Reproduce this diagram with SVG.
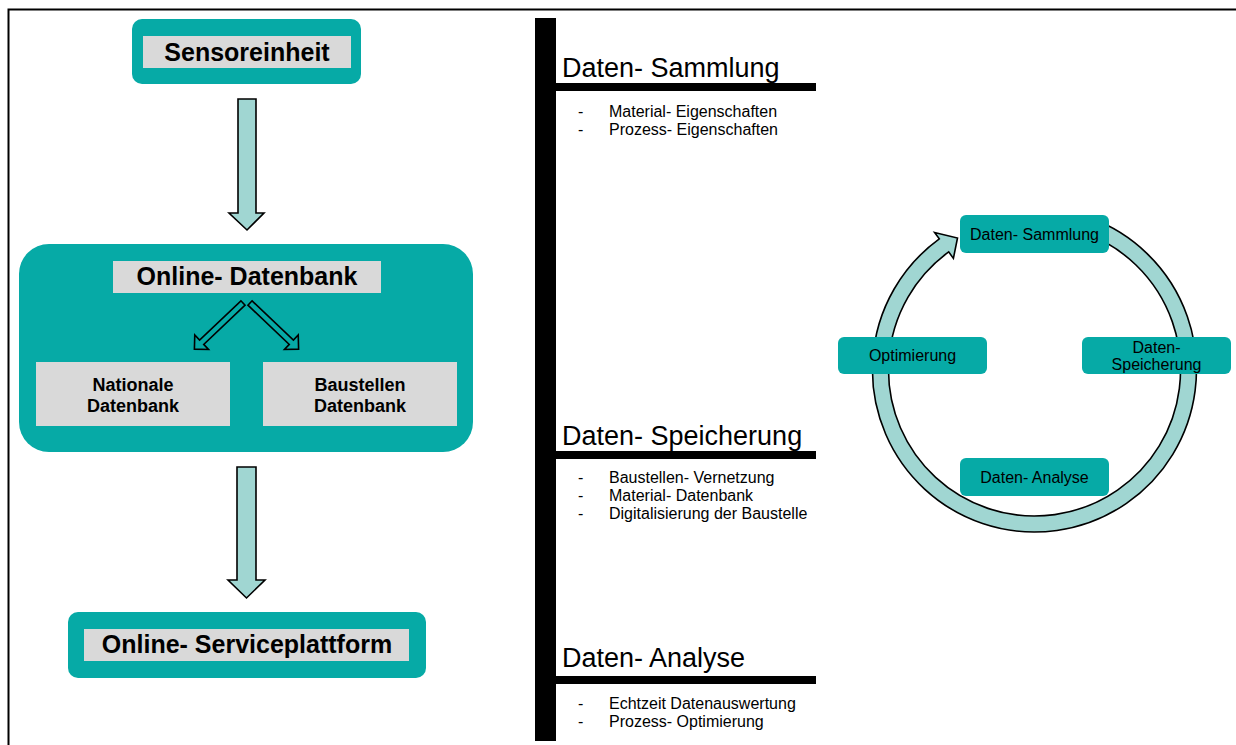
<svg xmlns="http://www.w3.org/2000/svg" width="1236" height="745" viewBox="0 0 1236 745">
  <style>
    .teal { fill: #06aaa6; }
    .gray { fill: #d9d9d9; }
    .flow { fill: #a0d6d2; stroke: #000; stroke-width: 1.6; stroke-linejoin: miter; }
    .split { fill: #06aaa6; stroke: #000; stroke-width: 1.6; stroke-linejoin: miter; }
    .bold { font-family: "Liberation Sans", Arial, sans-serif; font-weight: bold; fill: #000; text-anchor: middle; }
    .head { font-family: "Liberation Sans", Arial, sans-serif; font-size: 27px; fill: #000; }
    .item { font-family: "Liberation Sans", Arial, sans-serif; font-size: 16px; fill: #000; }
    .cyc { font-family: "Liberation Sans", Arial, sans-serif; font-size: 16px; fill: #000; text-anchor: middle; }
  </style>

  <rect width="1236" height="745" fill="#fff"/>
  <!-- frame -->
  <path d="M8.5 745 V9.5 H1236" fill="none" stroke="#000" stroke-width="2"/>

  <!-- left column: data flow -->
  <g id="sensoreinheit">
    <rect class="teal" x="132" y="19" width="229" height="65" rx="10"/>
    <rect class="gray" x="143" y="36" width="208" height="32"/>
    <text class="bold" x="247" y="61" font-size="25">Sensoreinheit</text>
  </g>

  <g id="online-datenbank">
    <rect class="teal" x="19" y="244" width="454" height="208" rx="30"/>
    <rect class="gray" x="113" y="261" width="268" height="32"/>
    <text class="bold" x="247" y="285" font-size="25">Online- Datenbank</text>
  </g>

  <g id="nationale-datenbank">
    <rect class="gray" x="36" y="362" width="194" height="64"/>
    <text class="bold" x="133" y="391" font-size="18">Nationale</text>
    <text class="bold" x="133" y="412" font-size="18">Datenbank</text>
  </g>

  <g id="baustellen-datenbank">
    <rect class="gray" x="263" y="362" width="194" height="64"/>
    <text class="bold" x="360" y="391" font-size="18">Baustellen</text>
    <text class="bold" x="360" y="412" font-size="18">Datenbank</text>
  </g>

  <g id="online-serviceplattform">
    <rect class="teal" x="68" y="612" width="358" height="66" rx="10"/>
    <rect class="gray" x="84" y="629" width="325" height="32"/>
    <text class="bold" x="247" y="653" font-size="25">Online- Serviceplattform</text>
  </g>

  <g id="connectors">
    <!-- Sensoreinheit to Online-Datenbank -->
    <polygon class="flow" points="238,99 256,99 256,213 264,213 247,230 229,213 238,213"/>
    <!-- Online-Datenbank to Online-Serviceplattform -->
    <polygon class="flow" points="237,467 256,467 256,580 265,580 246.5,598 228,580 237,580"/>
    <!-- split into the two databases -->
    <g transform="translate(243,303) rotate(136.5)">
      <polygon class="split" points="0,-3 57,-3 57,-10 67,0 57,10 57,3 0,3"/>
    </g>
    <g transform="translate(250,303) rotate(43.5)">
      <polygon class="split" points="0,-3 57,-3 57,-10 67,0 57,10 57,3 0,3"/>
    </g>
  </g>

  <!-- middle column: timeline -->
  <g id="timeline">
    <rect x="535" y="18" width="21" height="723" fill="#000"/>
    <rect x="556" y="83" width="260" height="8" fill="#000"/>
    <rect x="556" y="451" width="260" height="8" fill="#000"/>
    <rect x="556" y="676" width="260" height="8" fill="#000"/>
  </g>

  <g id="phase-sammlung">
    <text class="head" x="562" y="76.5">Daten- Sammlung</text>
    <text class="item" x="578" y="117">-</text>
    <text class="item" x="609" y="117">Material- Eigenschaften</text>
    <text class="item" x="578" y="134.5">-</text>
    <text class="item" x="609" y="134.5">Prozess- Eigenschaften</text>
  </g>

  <g id="phase-speicherung">
    <text class="head" x="562" y="444.5">Daten- Speicherung</text>
    <text class="item" x="578" y="483">-</text>
    <text class="item" x="609" y="483">Baustellen- Vernetzung</text>
    <text class="item" x="578" y="500.5">-</text>
    <text class="item" x="609" y="500.5">Material- Datenbank</text>
    <text class="item" x="578" y="518.5">-</text>
    <text class="item" x="609" y="518.5">Digitalisierung der Baustelle</text>
  </g>

  <g id="phase-analyse">
    <text class="head" x="562" y="667">Daten- Analyse</text>
    <text class="item" x="578" y="709">-</text>
    <text class="item" x="609" y="709">Echtzeit Datenauswertung</text>
    <text class="item" x="578" y="726.5">-</text>
    <text class="item" x="609" y="726.5">Prozess- Optimierung</text>
  </g>

  <!-- right column: cycle -->
  <g id="cycle-ring">
    <path class="flow" d="M1089.9 217.8 A162 162 0 1 1 939.3 238.9 L934.6 232.5 L957.5 238 L953.4 258.4 L948.7 251.9 A146 146 0 1 0 1084.4 232.8 Z"/>
  </g>

  <g id="cycle-sammlung">
    <rect class="teal" x="960" y="215" width="149" height="38" rx="6"/>
    <text class="cyc" x="1034.5" y="240">Daten- Sammlung</text>
  </g>

  <g id="cycle-speicherung">
    <rect class="teal" x="1082" y="337" width="149" height="37" rx="6"/>
    <text class="cyc" x="1156.5" y="353">Daten-</text>
    <text class="cyc" x="1156.5" y="369.5">Speicherung</text>
  </g>

  <g id="cycle-analyse">
    <rect class="teal" x="960" y="458" width="149" height="38" rx="6"/>
    <text class="cyc" x="1034.5" y="483">Daten- Analyse</text>
  </g>

  <g id="cycle-optimierung">
    <rect class="teal" x="838" y="337" width="149" height="37" rx="6"/>
    <text class="cyc" x="912.5" y="361">Optimierung</text>
  </g>
</svg>
